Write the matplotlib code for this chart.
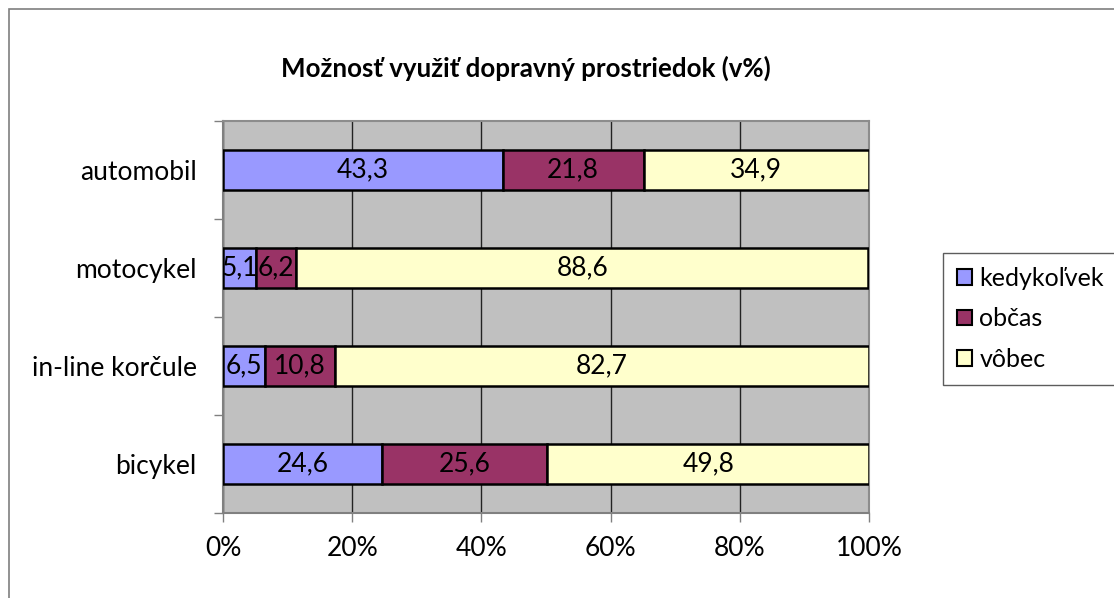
import matplotlib.pyplot as plt
import matplotlib.patches as mpatches
import numpy as np

# data
categories = ['bicykel', 'in-line korčule', 'motocykel', 'automobil']
kedykolvek = [24.6, 6.5, 5.1, 43.3]
obcas = [25.6, 10.8, 6.2, 21.8]
vobec = [49.8, 82.7, 88.6, 34.9]
series_names = ['kedykoľvek', 'občas', 'vôbec']
colors = ['#9999FF', '#993366', '#FFFFCC']
x_ticks = [0, 20, 40, 60, 80, 100]

W, H = 1114, 598
fig = plt.figure(figsize=(W / 100, H / 100), dpi=100)
fig.patch.set_facecolor('white')

# outer chart border (only left/top visible)
fig.patches.append(mpatches.Rectangle((9 / W, -0.5), 1.5, 1.5 - 9 / H, transform=fig.transFigure,
                                      fill=False, edgecolor='#7f7f7f', linewidth=1.2))

ax = fig.add_axes([223 / W, 1 - 513 / H, (869 - 223) / W, (513 - 121) / H])
ax.set_facecolor('#C0C0C0')

lab_font = 'Lato'
fs = 19
y = np.arange(len(categories))
left = np.zeros(len(categories))
for name, vals, col in zip(series_names, [kedykolvek, obcas, vobec], colors):
    vals = np.array(vals)
    ax.barh(y, vals, left=left, height=0.4, color=col, edgecolor='black',
            linewidth=1.8, label=name, zorder=3)
    for yi, l, v in zip(y, left, vals):
        ax.text(l + v / 2, yi, f'{v:.1f}'.replace('.', ','), ha='center', va='center',
                fontsize=fs, family=lab_font, zorder=4)
    left += vals

ax.set_xlim(0, 100)
ax.set_ylim(-0.5, len(categories) - 0.5)
ax.set_xticks(x_ticks)
ax.set_xticklabels([f'{t}%' for t in x_ticks], fontsize=fs, family=lab_font)
ax.set_yticks(y)
ax.set_yticklabels(categories, fontsize=fs, family=lab_font)
ax.tick_params(axis='y', length=0, pad=19)
ax.set_yticks(np.arange(-0.5, len(categories)), minor=True)
ax.tick_params(axis='y', which='minor', length=6.5, color='#808080', width=1)
ax.tick_params(axis='x', length=6.5, color='#808080', width=1, pad=10)
ax.xaxis.grid(True, color='#222222', linewidth=1, zorder=1)
ax.set_axisbelow(True)
for s in ['top', 'right']:
    ax.spines[s].set_color('#8c8c8c')
    ax.spines[s].set_linewidth(1.5)
for s in ['left', 'bottom']:
    ax.spines[s].set_color('#808080')
    ax.spines[s].set_linewidth(1.5)

fig.text(526 / W, 1 - 68 / H, 'Možnosť využiť dopravný prostriedok (v%)', ha='center', va='center',
         fontsize=18.6, fontweight='bold', family=lab_font)

handles = [mpatches.Patch(facecolor=c, edgecolor='black', linewidth=1.5) for c in colors]
leg = fig.legend(handles, series_names, loc='upper left', bbox_to_anchor=(943 / W, 1 - 253 / H),
                 prop={'family': lab_font, 'size': 18}, frameon=True, fancybox=False,
                 handlelength=0.6, handleheight=0.6, handletextpad=0.3, labelspacing=0.7,
                 borderpad=0.55, borderaxespad=0)
leg.get_frame().set_edgecolor('#333333')
leg.get_frame().set_linewidth(1)

fig.savefig('out.png', dpi=100)
